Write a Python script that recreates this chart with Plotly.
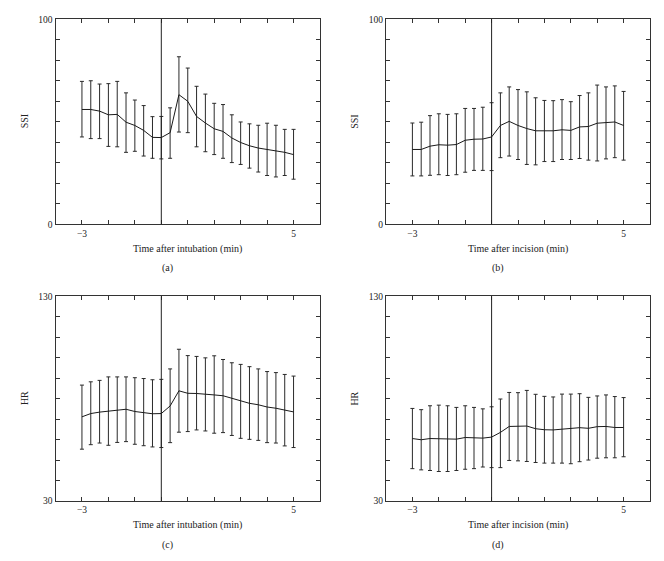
import plotly.graph_objects as go

# time points (min), every 20 s from -3 to 5
time_min = [-3 + i / 3 for i in range(25)]

# (a) SSI vs time after intubation
ssi_intub_mean = [56.0, 56.0, 55.2, 53.4, 53.6, 49.8, 48.2, 45.8, 42.4, 42.3, 44.7, 63.2, 60.0,
                  52.6, 49.4, 46.6, 45.3, 42.1, 39.9, 38.3, 37.2, 36.5, 35.9, 35.1, 34.0]
ssi_intub_upper = [69.7, 70.0, 68.4, 68.6, 69.7, 64.1, 60.6, 57.9, 52.5, 52.6, 56.8, 81.7, 76.2,
                   67.3, 63.5, 59.0, 58.4, 53.4, 49.9, 49.0, 48.3, 49.3, 48.3, 46.3, 46.3]
ssi_intub_lower = [42.6, 41.8, 41.8, 38.0, 37.8, 35.1, 35.6, 33.3, 32.2, 31.9, 32.2, 45.0, 44.7,
                   37.8, 35.4, 34.0, 32.2, 30.1, 29.2, 27.4, 25.5, 23.8, 23.1, 23.8, 22.0]

# (b) SSI vs time after incision
ssi_incis_mean = [36.5, 36.5, 38.1, 38.8, 38.6, 38.9, 41.0, 41.5, 41.6, 42.6, 48.2, 50.2, 48.2,
                  46.7, 45.6, 45.6, 45.6, 46.1, 45.8, 47.5, 47.7, 49.3, 49.6, 49.9, 48.2]
ssi_incis_upper = [49.4, 49.8, 53.0, 53.9, 53.6, 53.9, 56.5, 56.5, 57.1, 59.3, 64.1, 67.0, 65.7,
                   64.6, 61.7, 60.4, 60.3, 60.8, 59.8, 62.8, 64.1, 67.9, 67.0, 67.5, 64.8]
ssi_incis_lower = [23.6, 23.6, 23.9, 24.2, 23.8, 24.2, 25.4, 26.3, 26.3, 26.2, 32.5, 33.3, 31.6,
                   29.2, 29.0, 30.6, 30.6, 31.6, 31.6, 32.1, 31.3, 30.9, 31.9, 32.5, 31.3]

# (c) HR vs time after intubation
hr_intub_mean = [71.1, 72.7, 73.4, 73.8, 74.5, 74.8, 73.7, 73.2, 72.6, 72.7, 76.4, 83.8, 82.6,
                 82.5, 82.0, 81.8, 81.4, 80.1, 78.8, 77.7, 77.0, 75.9, 75.3, 74.5, 73.5]
hr_intub_upper = [86.6, 88.2, 88.9, 90.6, 90.6, 90.6, 90.2, 89.8, 89.2, 89.4, 94.5, 104.1, 101.0,
                  100.6, 99.9, 100.9, 99.1, 97.5, 96.7, 95.6, 94.5, 93.2, 92.7, 91.8, 91.0]
hr_intub_lower = [55.3, 57.5, 58.3, 57.2, 58.6, 59.0, 57.7, 57.0, 56.4, 56.1, 58.5, 63.6, 63.9,
                  64.7, 64.2, 63.1, 63.4, 62.0, 60.6, 60.1, 59.6, 58.5, 58.3, 56.9, 56.1]

# (d) HR vs time after incision
hr_incis_mean = [60.5, 59.9, 60.5, 60.5, 60.4, 60.2, 61.0, 60.7, 60.7, 61.2, 63.5, 66.4, 66.6,
                 66.6, 65.3, 64.8, 64.7, 65.1, 65.3, 65.8, 65.5, 66.3, 66.4, 65.9, 65.9]
hr_incis_upper = [75.2, 74.6, 76.5, 76.8, 76.5, 75.7, 76.5, 75.7, 75.0, 76.0, 79.8, 83.0, 82.9,
                  84.0, 82.1, 81.1, 80.8, 82.2, 82.2, 82.4, 80.6, 81.3, 81.8, 81.0, 80.5]
hr_incis_lower = [45.8, 45.2, 44.9, 44.4, 44.4, 44.9, 45.5, 45.8, 46.6, 46.3, 46.3, 49.8, 49.6,
                  49.3, 48.8, 48.5, 48.5, 48.5, 48.2, 49.2, 50.0, 50.9, 51.1, 51.1, 51.6]

x_titles = ["Time after intubation (min)", "Time after incision (min)",
            "Time after intubation (min)", "Time after incision (min)"]
y_titles = ["SSI", "SSI", "HR", "HR"]
panel_labels = ["(a)", "(b)", "(c)", "(d)"]
y_ranges = [(0, 100), (0, 100), (30, 130), (30, 130)]
x_tick_vals = list(range(-3, 6))
x_tick_text = ["\u22123" if v == -3 else ("5" if v == 5 else "") for v in x_tick_vals]

panels = [
    (ssi_intub_mean, ssi_intub_upper, ssi_intub_lower),
    (ssi_incis_mean, ssi_incis_upper, ssi_incis_lower),
    (hr_intub_mean, hr_intub_upper, hr_intub_lower),
    (hr_incis_mean, hr_incis_upper, hr_incis_lower),
]

W, H = 664, 561
box_x = [(55.5, 320.0), (386.0, 650.0)]   # window pixel coords
box_y = [(14.5, 223.3), (296.5, 505.0)]


def px_x(p):
    return p / W


def px_y(p):
    return 1 - p / H


FONT = "Liberation Serif"
TXT = "#222"
fig = go.Figure()
layout = dict(
    width=W, height=H, margin=dict(l=0, r=0, t=0, b=0),
    paper_bgcolor="white", plot_bgcolor="white", showlegend=False, hovermode=False,
    font=dict(family=FONT, size=10, color=TXT),
)
shapes = []
annotations = []
for i, (mean, up, lo) in enumerate(panels):
    n = i + 1
    xs = "x" if n == 1 else f"x{n}"
    ys = "y" if n == 1 else f"y{n}"
    err_plus = [u - m for u, m in zip(up, mean)]
    err_minus = [m - l for m, l in zip(mean, lo)]
    fig.add_trace(go.Scatter(
        x=time_min, y=mean, mode="lines", xaxis=xs, yaxis=ys,
        line=dict(color="#1a1a1a", width=1),
        error_y=dict(type="data", array=err_plus, arrayminus=err_minus, symmetric=False,
                     color="#2a2a2a", thickness=1, width=2),
    ))
    col, row = i % 2, i // 2
    xl, xr = box_x[col]
    yt, yb = box_y[row]
    y0, y1 = y_ranges[i]
    yvals = list(range(y0, y1 + 1, 10))
    ytext = [str(v) if v in (y0, y1) else "" for v in yvals]
    common = dict(showline=True, mirror="ticks", linecolor="#333", linewidth=1,
                  ticks="inside", ticklen=4, tickcolor="#333", tickwidth=1,
                  showgrid=False, zeroline=False,
                  tickfont=dict(family=FONT, size=9.5, color=TXT))
    layout["xaxis" if n == 1 else f"xaxis{n}"] = dict(
        domain=[px_x(xl), px_x(xr)], range=[-4, 6], anchor=ys,
        tickmode="array", tickvals=x_tick_vals, ticktext=x_tick_text, **common)
    layout["yaxis" if n == 1 else f"yaxis{n}"] = dict(
        domain=[px_y(yb), px_y(yt)], range=[y0, y1], anchor=xs,
        tickmode="array", tickvals=yvals, ticktext=ytext, **common)
    shapes.append(dict(type="line", xref=xs, yref=f"{ys} domain", x0=0, x1=0, y0=0, y1=1,
                       line=dict(color="#222", width=1)))
    cx = (xl + xr) / 2
    cy = (yt + yb) / 2
    annotations.append(dict(text=x_titles[i], xref="paper", yref="paper",
                            x=px_x(cx), y=px_y(yb + 24.7), xanchor="center", yanchor="middle",
                            showarrow=False, font=dict(family=FONT, size=10, color=TXT)))
    annotations.append(dict(text=y_titles[i], xref="paper", yref="paper", textangle=-90,
                            x=px_x(xl - 31), y=px_y(cy), xanchor="center", yanchor="middle",
                            showarrow=False, font=dict(family=FONT, size=10, color=TXT)))
    annotations.append(dict(text=panel_labels[i], xref="paper", yref="paper",
                            x=px_x(cx - 20), y=px_y(yb + 44.5), xanchor="center", yanchor="middle",
                            showarrow=False, font=dict(family=FONT, size=10, color=TXT)))

layout["shapes"] = shapes
layout["annotations"] = annotations
fig.update_layout(**layout)
# remove the default 8px page margin so the figure fills the window exactly
fig.write_html("out.html", config={"displayModeBar": False, "staticPlot": True},
               post_script="document.body.style.margin='0';")
